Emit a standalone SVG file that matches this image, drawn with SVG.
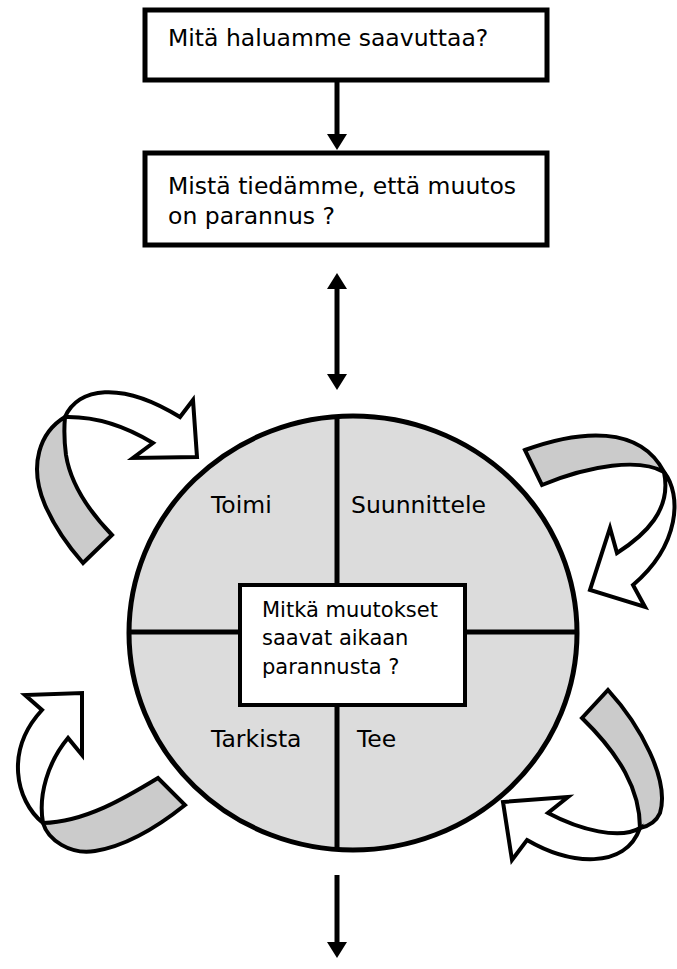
<svg xmlns="http://www.w3.org/2000/svg" width="677" height="969" viewBox="0 0 677 969">
  <style>
    .box { fill: #ffffff; stroke: #000000; stroke-width: 5; }
    .txt { font-family: "DejaVu Sans", "Liberation Sans", sans-serif; font-size: 23.5px; fill: #000000; }
    .txt-sm { font-family: "DejaVu Sans", "Liberation Sans", sans-serif; font-size: 21px; fill: #000000; }
    .wheel { fill: #dcdcdc; stroke: #000000; stroke-width: 5; }
    .divider { stroke: #000000; stroke-width: 5; fill: none; }
    .link { stroke: #000000; stroke-width: 5; fill: none; }
    .ribbon-back { fill: #cbcbcb; stroke: #000000; stroke-width: 4; stroke-linejoin: miter; }
    .ribbon-front { fill: #ffffff; stroke: #000000; stroke-width: 4; stroke-linejoin: miter; }
  </style>
  <defs>
    <marker id="head" viewBox="0 -10 16 20" refX="0" refY="0" markerWidth="16" markerHeight="20" markerUnits="userSpaceOnUse" orient="auto-start-reverse">
      <path d="M0,-10 L16,0 L0,10 Z" fill="#000000"/>
    </marker>
  </defs>

  <!-- Question boxes -->
  <g id="goal">
    <rect class="box" x="145" y="10" width="402" height="70"/>
    <text class="txt" x="168" y="46">Mitä haluamme saavuttaa?</text>
  </g>
  <g id="measure">
    <rect class="box" x="145" y="153" width="402" height="92"/>
    <text class="txt" x="168" y="194">Mistä tiedämme, että muutos</text>
    <text class="txt" x="168" y="224">on parannus ?</text>
  </g>

  <!-- PDSA wheel -->
  <g id="wheel">
    <ellipse class="wheel" cx="353" cy="633" rx="224" ry="217"/>
    <line class="divider" x1="337" y1="416" x2="337" y2="585"/>
    <line class="divider" x1="337" y1="705" x2="337" y2="850"/>
    <line class="divider" x1="130" y1="632" x2="240" y2="632"/>
    <line class="divider" x1="465" y1="632" x2="577" y2="632"/>
  </g>
  <g id="act">
    <text class="txt" x="211" y="513">Toimi</text>
  </g>
  <g id="plan">
    <text class="txt" x="351" y="513">Suunnittele</text>
  </g>
  <g id="study">
    <text class="txt" x="211" y="747">Tarkista</text>
  </g>
  <g id="do">
    <text class="txt" x="357" y="747">Tee</text>
  </g>
  <g id="changes">
    <rect x="240" y="585" width="225" height="120" fill="#ffffff" stroke="#000000" stroke-width="4"/>
    <text class="txt-sm" x="262" y="617">Mitkä muutokset</text>
    <text class="txt-sm" x="262" y="645">saavat aikaan</text>
    <text class="txt-sm" x="262" y="674">parannusta ?</text>
  </g>

  <!-- Curved ribbon arrows around the wheel -->
  <g id="cycle-arrows">
    <g id="arrow-top-left">
      <path class="ribbon-back" d="M65,417 C40,432 28,465 45,505 C55,528 68,546 83,563 L112,535 C85,507 70,480 66,455 C64,440 64,428 65,417 Z"/>
      <path class="ribbon-front" d="M65,417 C78,388 120,380 180,417 L193,400 L197,457 L133,458 L153,443 C135,432 105,416 65,417 Z"/>
    </g>
    <g id="arrow-top-right">
      <path class="ribbon-back" d="M525,450 C580,430 640,425 664,472 C640,458 590,465 542,485 Z"/>
      <path class="ribbon-front" d="M664,472 C682,495 680,545 633,585 L645,607 L590,590 L610,528 L617,553 C645,535 672,510 664,472 Z"/>
    </g>
    <g id="arrow-bottom-right">
      <path class="ribbon-back" d="M582,718 L608,690 C640,725 670,780 660,813 C656,822 650,826 640,828 C640,790 620,755 582,718 Z"/>
      <path class="ribbon-front" d="M640,828 C625,870 570,865 527,840 L512,860 L503,802 L568,797 L548,813 C580,830 620,840 640,828 Z"/>
    </g>
    <g id="arrow-bottom-left">
      <path class="ribbon-back" d="M158,778 C125,798 85,822 43,823 C48,840 70,855 95,851 C120,847 150,833 185,805 Z"/>
      <path class="ribbon-front" d="M43,823 C15,800 5,750 42,710 L25,695 L82,693 L82,755 L68,738 C48,762 38,795 43,823 Z"/>
    </g>
  </g>

  <!-- Straight connectors -->
  <g id="connectors">
    <line class="link" x1="337" y1="80" x2="337" y2="134" marker-end="url(#head)"/>
    <line class="link" x1="337" y1="289" x2="337" y2="374" marker-start="url(#head)" marker-end="url(#head)"/>
    <line class="link" x1="337" y1="875" x2="337" y2="942" marker-end="url(#head)"/>
  </g>
</svg>
